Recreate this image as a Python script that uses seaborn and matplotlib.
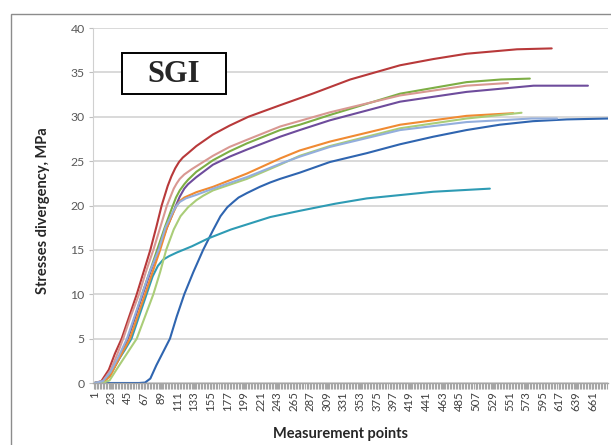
import numpy as np
import pandas as pd
import matplotlib
matplotlib.use("Agg")
import matplotlib.pyplot as plt
from matplotlib.patches import Rectangle
from matplotlib.ticker import MultipleLocator
import seaborn as sns

# ---- data ----
blue_x = [1, 30, 60, 68, 75, 83, 92, 101, 110, 120, 132, 145, 158, 168, 177, 185, 192, 203, 220, 234, 247, 273, 313, 362, 406, 450, 494, 538, 582, 627, 682]
blue_y = [0, 0, 0, 0.05, 0.5, 2, 3.5, 5, 7.5, 10, 12.5, 15, 17.2, 18.8, 19.8, 20.4, 20.9, 21.4, 22.1, 22.6, 23, 23.7, 24.9, 25.9, 26.9, 27.75, 28.5, 29.1, 29.5, 29.7, 29.8]

red_x = [1, 10, 20, 28, 37, 47, 57, 66, 75, 83, 90, 98, 103, 108, 113, 118, 125, 136, 158, 180, 205, 247, 290, 340, 406, 450, 494, 561, 607]
red_y = [0, 0.2, 1.5, 3.3, 5, 7.5, 10, 12.5, 15, 17.6, 20, 22.2, 23.3, 24.2, 24.9, 25.4, 25.9, 26.7, 28.0, 29.0, 30, 31.3, 32.6, 34.2, 35.8, 36.5, 37.1, 37.6, 37.7]

green_x = [1, 12, 22, 32, 45, 55, 64, 74, 84, 94, 104, 109, 114, 120, 125, 136, 158, 180, 203, 247, 273, 313, 406, 494, 540, 578]
green_y = [0, 0.1, 1, 2.5, 5, 7.5, 10, 12.5, 15, 17.5, 19.8, 20.9, 21.7, 22.4, 22.9, 23.8, 25.1, 26.1, 27.0, 28.5, 29.1, 30.2, 32.6, 33.9, 34.2, 34.3]

purple_x = [1, 12, 22, 32, 45, 55, 65, 75, 86, 97, 108, 114, 120, 125, 136, 158, 180, 203, 247, 273, 313, 406, 494, 583, 655]
purple_y = [0, 0.1, 1, 2.5, 5, 7.5, 10, 12.5, 15, 17.5, 19.8, 21.0, 21.9, 22.4, 23.2, 24.6, 25.5, 26.3, 27.75, 28.5, 29.6, 31.7, 32.8, 33.5, 33.5]

cyan_x = [1, 12, 22, 32, 41, 50, 60, 70, 78, 85, 92, 100, 110, 130, 152, 182, 234, 273, 320, 362, 450, 525]
cyan_y = [0, 0.2, 1, 2.5, 3.7, 5, 7.5, 10, 12, 13.2, 13.9, 14.3, 14.7, 15.4, 16.3, 17.3, 18.7, 19.4, 20.2, 20.8, 21.55, 21.9]

orange_x = [1, 12, 22, 32, 48, 58, 68, 78, 88, 97, 106, 110, 114, 120, 136, 158, 203, 247, 273, 313, 406, 494, 556]
orange_y = [0, 0, 0.8, 2.5, 5, 7.5, 10, 12.5, 15, 17.5, 19.3, 20.0, 20.5, 20.9, 21.5, 22.1, 23.6, 25.3, 26.2, 27.2, 29.1, 30.1, 30.4]

pink_x = [1, 12, 22, 31, 39, 49, 60, 69, 79, 88, 97, 106, 110, 114, 120, 130, 158, 180, 203, 247, 313, 406, 494, 549]
pink_y = [0, 0.2, 1.4, 3.2, 5, 7.5, 10, 12.5, 15, 17.5, 20, 21.9, 22.5, 23.0, 23.5, 24.1, 25.6, 26.6, 27.4, 28.9, 30.5, 32.4, 33.5, 33.8]

lgreen_x = [1, 12, 21, 30, 40, 57, 68, 79, 88, 96, 106, 115, 125, 136, 145, 158, 203, 247, 273, 313, 406, 494, 567]
lgreen_y = [0, 0, 0.3, 1.5, 2.8, 5, 7.5, 10, 12.5, 15, 17.3, 18.8, 19.8, 20.6, 21.1, 21.7, 23.0, 24.6, 25.6, 26.7, 28.7, 29.8, 30.45]

lblue_x = [1, 12, 22, 33, 44, 54, 64, 74, 86, 95, 105, 110, 114, 122, 136, 158, 203, 247, 273, 313, 406, 494, 580, 614]
lblue_y = [0, 0.2, 1.2, 3, 5, 7.5, 10, 12.5, 15, 17.5, 19.3, 20.0, 20.4, 20.8, 21.2, 21.9, 23.2, 24.7, 25.5, 26.6, 28.5, 29.4, 29.8, 29.8]

series_names = ["blue", "red", "green", "purple", "cyan", "orange", "pink", "lgreen", "lblue"]
series_colors = ["#2F65B0", "#B8393A", "#7DAE45", "#6E4C9C", "#2E9BB4", "#F08A32", "#D99892", "#AACD78", "#93AEDD"]

x_ticks = list(range(1, 662, 22))
y_ticks = [0, 5, 10, 15, 20, 25, 30, 35, 40]

# ---- long table for seaborn ----
xs = [blue_x, red_x, green_x, purple_x, cyan_x, orange_x, pink_x, lgreen_x, lblue_x]
ys = [blue_y, red_y, green_y, purple_y, cyan_y, orange_y, pink_y, lgreen_y, lblue_y]
rows = []
for name, sx, sy in zip(series_names, xs, ys):
    for a, b in zip(sx, sy):
        rows.append((name, a, b))
df = pd.DataFrame(rows, columns=["series", "x", "y"])

sns.set_style("white")
plt.rcParams["font.family"] = ["Lato", "DejaVu Sans"]

fig = plt.figure(figsize=(6.11, 4.45), dpi=100)
ax = fig.add_axes([93 / 611, 1 - 383 / 445, (608 - 93) / 611, (383 - 28) / 445])

ax.set_axisbelow(True)
ax.yaxis.grid(True, color="#D9D9D9", linewidth=1.4)
ax.xaxis.grid(False)

sns.lineplot(data=df, x="x", y="y", hue="series", hue_order=series_names,
             palette=series_colors, units="series", estimator=None, sort=False,
             linewidth=1.5, legend=False, ax=ax)

ax.set_xlim(-1, 681.6)
ax.set_ylim(0, 40)
ax.set_yticks(y_ticks)
ax.set_xticks(x_ticks)
ax.set_xticklabels([str(t) for t in x_ticks], rotation=90)
ax.xaxis.set_minor_locator(MultipleLocator(2))

ax.tick_params(axis="y", which="major", length=3, width=0.8, color="#BFBFBF",
               labelsize=8.8, labelcolor="#595959", pad=3, left=True)
ax.tick_params(axis="x", which="major", length=4, width=0.9, color="#A6A6A6",
               labelsize=8.2, labelcolor="#404040", pad=2, bottom=True)
ax.tick_params(axis="x", which="minor", length=4, width=0.8, color="#A6A6A6", bottom=True)

for s in ["top", "right"]:
    ax.spines[s].set_visible(False)
ax.spines["left"].set_color("#D0D0D0")
ax.spines["left"].set_linewidth(0.8)
ax.spines["bottom"].set_color("#A6A6A6")
ax.spines["bottom"].set_linewidth(1.0)

ax.set_xlabel("Measurement points", fontsize=10.5, fontweight="bold", color="#262626")
ax.set_ylabel("Stresses divergency, MPa", fontsize=10.5, fontweight="bold", color="#262626")
ax.xaxis.set_label_coords((340 - 93) / 515, (383 - 427) / 355)
ax.yaxis.set_label_coords((50 - 93) / 515, (383 - 211) / 355)

# SGI box
fig.add_artist(Rectangle((122 / 611, 1 - 94 / 445), 104 / 611, 41 / 445, transform=fig.transFigure,
                         facecolor="white", edgecolor="black", linewidth=1.4, zorder=5))
fig.text(174 / 611, 1 - 74 / 445, "SGI", fontsize=22, fontweight="bold",
         family=["Liberation Serif", "DejaVu Serif"], ha="center", va="center", zorder=6)

# outer chart frame
fig.add_artist(Rectangle((11 / 611, -0.05), 1.1, 1 - 14 / 445 + 0.05, transform=fig.transFigure,
                         fill=False, edgecolor="#8C8C8C", linewidth=1.0))

fig.savefig("out.png", dpi=100, facecolor="white")
